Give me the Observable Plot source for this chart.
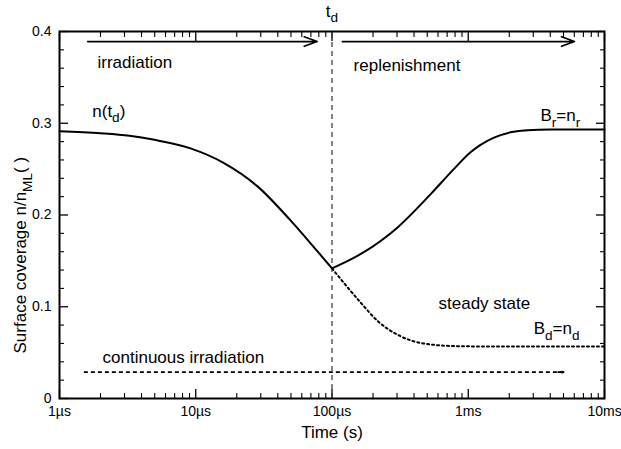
<!DOCTYPE html>
<html><head><meta charset="utf-8">
<script src="https://cdn.jsdelivr.net/npm/d3@7"></script>
<script src="https://cdn.jsdelivr.net/npm/@observablehq/plot@0.6"></script>
<style>body{margin:0;background:#fff;}</style>
</head><body><div id="chart"></div>
<script>
// ---- data (time in µs, coverage n/n_ML) ----
const decayTime = [1, 2, 3.26, 4.98, 9.15, 16, 28.4, 49.6, 78.3, 100];
const decayCoverage = [0.2912, 0.2890, 0.2863, 0.2819, 0.2726, 0.2568, 0.2312, 0.1941, 0.1603, 0.1418];

const riseTime = [100, 170, 303, 528, 780, 1039, 1230, 1531, 2043, 2722, 4015, 10000];
const riseCoverage = [0.1418, 0.1592, 0.1865, 0.2225, 0.2497, 0.2683, 0.2764, 0.2841, 0.2901, 0.2925, 0.2932, 0.2933];

const steadyTime = [100, 157, 221, 310, 486, 851, 1500, 10000];
const steadyCoverage = [0.1418, 0.107, 0.0832, 0.0687, 0.0596, 0.0570, 0.0567, 0.0567];

const tDetach = [100];

const arrowStart = [1.61, 119];
const arrowEnd = [77.9, 6025];
const arrowLevel = [0.389, 0.389];

const contArrowStart = [1.51];
const contArrowEnd = [5018];
const contArrowLevel = [0.0287];

const labelText = ["irradiation", "replenishment", "n(t_{d})", "B_{r}=n_{r}", "steady state", "B_{d}=n_{d}", "continuous irradiation"];
const labelTime = [1.9, 144, 1.74, 3390, 605, 3020, 2.07];
const labelCoverage = [0.366, 0.3625, 0.313, 0.3086, 0.1036, 0.0763, 0.0447];

const tdLabel = ["t_{d}"];
const tdLabelCoverage = [0.422];

const xMajorTicks = [1, 10, 100, 1000, 10000];
const xTickLabels = ["1µs", "10µs", "100µs", "1ms", "10ms"];
const yMajorTicks = [0, 0.1, 0.2, 0.3, 0.4];
const yTickLabels = ["0", "0.1", "0.2", "0.3", "0.4"];
const xMinorMultipliers = [2, 3, 4, 5, 6, 7, 8, 9];
const yMinorTicks = [0.02, 0.04, 0.06, 0.08, 0.12, 0.14, 0.16, 0.18, 0.22, 0.24, 0.26, 0.28, 0.32, 0.34, 0.36, 0.38];

const xLabel = "Time (s)";
const yLabel = "Surface coverage n/n_{ML}( )";

// ---- build tables ----
const decay = decayTime.map((t, i) => ({t, n: decayCoverage[i]}));
const rise = riseTime.map((t, i) => ({t, n: riseCoverage[i]}));
const steady = steadyTime.map((t, i) => ({t, n: steadyCoverage[i]}));
const arrows = arrowStart.map((a, i) => ({x1: a, x2: arrowEnd[i], y: arrowLevel[i]}));
const contArrow = contArrowStart.map((a, i) => ({x1: a, x2: contArrowEnd[i], y: contArrowLevel[i]}));
const labels = labelText.map((s, i) => ({s, t: labelTime[i], n: labelCoverage[i]}));
const tdLab = tdLabel.map((s, i) => ({s, t: tDetach[i], n: tdLabelCoverage[i]}));
const xMinorTicks = xMajorTicks.slice(0, -1).flatMap(d => xMinorMultipliers.map(k => d * k));

const FONT = "'Liberation Sans', Arial, Helvetica, sans-serif";
const noText = () => "";

const tickAxes = [];
for (const anchor of ["bottom", "top"]) {
  tickAxes.push(Plot.axisX(xMajorTicks, {anchor, tickSize: -9, tickFormat: noText, label: null, strokeWidth: 1.3}));
  tickAxes.push(Plot.axisX(xMinorTicks, {anchor, tickSize: -5, tickFormat: noText, label: null, strokeWidth: 1.1}));
}
for (const anchor of ["left", "right"]) {
  tickAxes.push(Plot.axisY(yMajorTicks, {anchor, tickSize: -9, tickFormat: noText, label: null, strokeWidth: 1.3}));
  tickAxes.push(Plot.axisY(yMinorTicks, {anchor, tickSize: -5, tickFormat: noText, label: null, strokeWidth: 1.1}));
}

const chart = Plot.plot({
  width: 621,
  height: 449,
  marginLeft: 59,
  marginRight: 17,
  marginTop: 31,
  marginBottom: 51,
  style: {fontFamily: FONT, fontSize: "14px", color: "#000", background: "#fff"},
  x: {type: "log", domain: [1, 10000]},
  y: {type: "linear", domain: [0, 0.4]},
  marks: [
    ...tickAxes,
    Plot.axisX(xMajorTicks, {anchor: "bottom", tickSize: 0, tickPadding: 8, fontSize: 14,
      tickFormat: d => xTickLabels[xMajorTicks.indexOf(d)], label: null}),
    Plot.axisY(yMajorTicks, {anchor: "left", tickSize: 0, tickPadding: 8, fontSize: 14,
      tickFormat: d => yTickLabels[yMajorTicks.indexOf(d)], label: null}),
    Plot.frame({strokeWidth: 2}),
    Plot.ruleX(tDetach, {y1: 0, y2: 0.4, stroke: "#333", strokeWidth: 1.2, strokeDasharray: "5,4"}),
    Plot.line(decay, {x: "t", y: "n", strokeWidth: 2, curve: "monotone-x"}),
    Plot.line(rise, {x: "t", y: "n", strokeWidth: 2, curve: "monotone-x"}),
    Plot.line(steady, {x: "t", y: "n", strokeWidth: 2, strokeDasharray: "2,3", curve: "monotone-x"}),
    Plot.arrow(arrows, {x1: "x1", x2: "x2", y1: "y", y2: "y", strokeWidth: 1.6, headAngle: 40, headLength: 13}),
    Plot.link(contArrow, {x1: "x1", x2: "x2", y1: "y", y2: "y", strokeWidth: 1.6, strokeDasharray: "4,3"}),
    Plot.arrow(contArrow, {x1: d => d.x2 / 1.1, x2: "x2", y1: "y", y2: "y", strokeWidth: 1.6, headAngle: 40, headLength: 13}),
    Plot.text(labels, {x: "t", y: "n", text: "s", textAnchor: "start", lineAnchor: "middle", fontSize: 17}),
    Plot.text(tdLab, {x: "t", y: "n", text: "s", textAnchor: "middle", lineAnchor: "middle", fontSize: 17, clip: false}),
    Plot.text([xLabel], {frameAnchor: "bottom", dy: 34, lineAnchor: "middle", fontSize: 17}),
    Plot.text([yLabel], {frameAnchor: "bottom-left", rotate: -90, dx: -39, dy: -45, textAnchor: "start", lineAnchor: "middle", fontSize: 17})
  ]
});

// subscript post-processing: "_{...}" -> lowered, smaller tspan
function applySubscripts(root) {
  const NS = "http://www.w3.org/2000/svg";
  root.querySelectorAll("text").forEach(t => {
    const s = t.textContent;
    if (!s.includes("_{")) return;
    const parts = s.split(/(_\{[^}]*\})/).filter(p => p.length);
    while (t.firstChild) t.removeChild(t.firstChild);
    let inSub = false;
    for (const p of parts) {
      const ts = document.createElementNS(NS, "tspan");
      if (p.startsWith("_{")) {
        ts.textContent = p.slice(2, -1);
        ts.setAttribute("font-size", "80%");
        ts.setAttribute("dy", "0.42em");
        inSub = true;
      } else {
        ts.textContent = p;
        if (inSub) { ts.setAttribute("dy", "-0.336em"); inSub = false; }
      }
      t.appendChild(ts);
    }
  });
}
applySubscripts(chart);
document.getElementById("chart").appendChild(chart);
</script>
</body></html>
